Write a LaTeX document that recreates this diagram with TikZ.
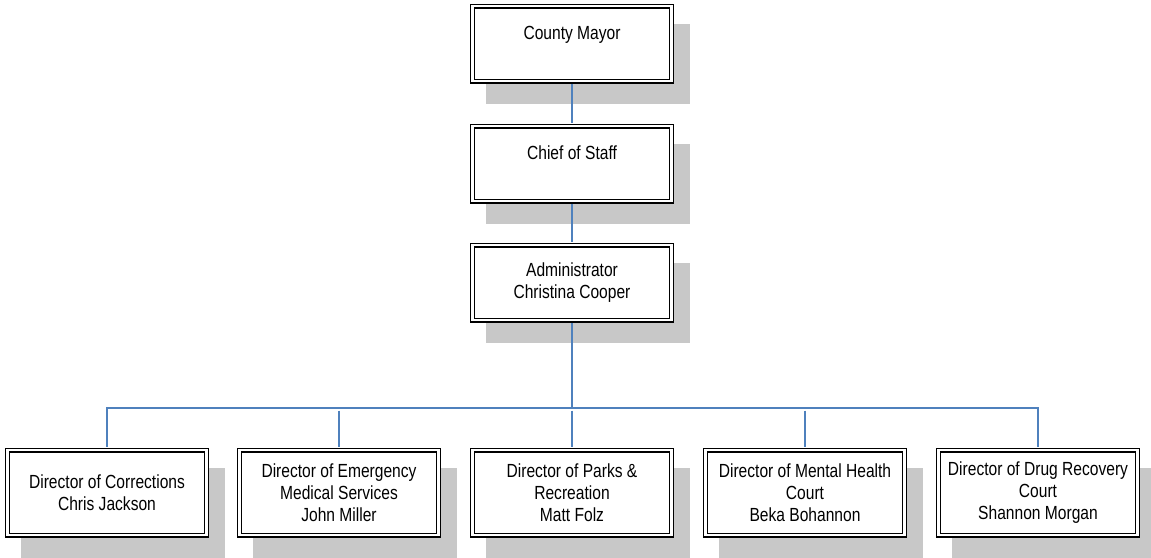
\documentclass[tikz,border=0pt]{standalone}
\usepackage{fontspec}
\setmainfont{Liberation Sans}[FakeStretch=0.82]
\usetikzlibrary{shadows}
\definecolor{linkblue}{RGB}{79,129,189}
\definecolor{shadowgray}{RGB}{200,200,200}
\tikzset{
  office/.style={draw=black, line width=1.1pt, double=white, double distance=2.8pt,
    fill=white, minimum width=199pt, inner sep=0pt, align=center,
    font=\fontsize{19}{22}\selectfont,
    general shadow={fill=shadowgray, draw=shadowgray, line width=5pt,
      shadow xshift=16pt, shadow yshift=-20pt}},
  topoffice/.style={office, minimum height=75pt},
  director/.style={office, minimum height=85pt},
  link/.style={draw=linkblue, line width=1.3pt, shorten >=2.5pt, shorten <=2.5pt}
}
\begin{document}
\begin{tikzpicture}[x=1pt, y=-1pt]
			%%%%% START %%%%%
			\useasboundingbox (0, 0) rectangle (1151, 557);
			
			\node[topoffice] (mayor) at (572, 43.5) {County Mayor\\\mbox{}};
			\node[topoffice] (chief) at (572, 163.5) {Chief of Staff\\\mbox{}};
			\node[topoffice] (admin) at (572, 282.5) {Administrator\\Christina Cooper};
			
			\node[director] (corr) at (107, 492.5) {Director of Corrections\\Chris Jackson};
			\node[director] (ems) at (339, 492.5) {Director of Emergency\\Medical Services\\John Miller};
			\node[director] (parks) at (572, 492.5) {Director of Parks \&\\Recreation\\Matt Folz};
			\node[director] (mental) at (805, 492.5) {Director of Mental Health\\Court\\Beka Bohannon};
			\node[director] (drug) at (1038, 492.5) {Director of Drug Recovery\\Court\\Shannon Morgan};
			
			\coordinate (bus) at (572, 408);
			
			\draw[link] (mayor) -- (chief);
			\draw[link] (chief) -- (admin);
			\draw[link, shorten >=0pt] (admin) -- (bus);
			\draw[link, shorten <=0pt] (bus) -| (corr);
			\draw[link, shorten <=0pt] (bus) -| (drug);
			\draw[link] (ems.north |- bus) -- (ems);
			\draw[link] (parks.north |- bus) -- (parks);
			\draw[link] (mental.north |- bus) -- (mental);
			
			%%%%% END %%%%%
\end{tikzpicture}
\end{document}
